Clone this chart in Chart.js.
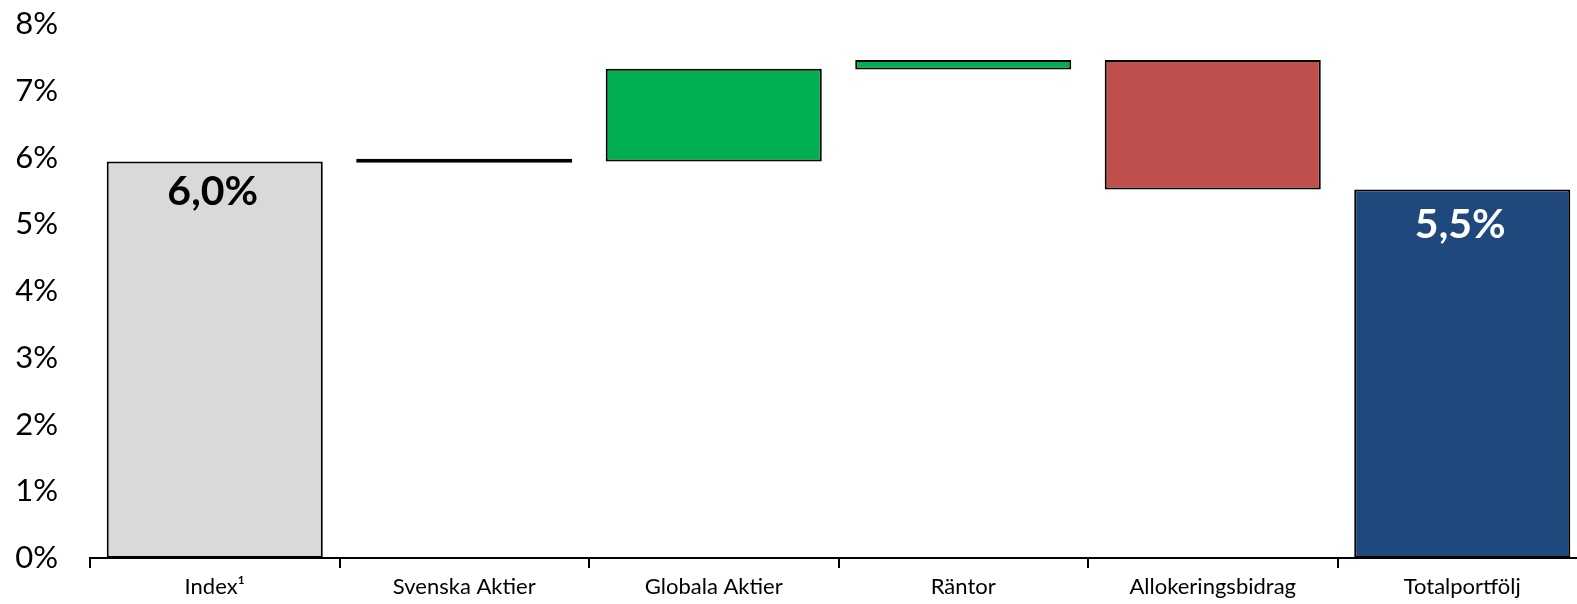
<!DOCTYPE html>
<html>
<head>
<meta charset="utf-8">
<script src="https://cdn.jsdelivr.net/npm/chart.js@4"></script>
<style>
html,body{margin:0;padding:0;background:#fff;overflow:hidden;}
#wrap{width:1577px;height:604px;overflow:hidden;}
</style>
</head>
<body>
<div id="wrap"><canvas id="c" width="1590" height="604"></canvas></div>
<script>
const categories = ["Index\u00B9", "Svenska Aktier", "Globala Aktier", "R\u00E4ntor", "Allokeringsbidrag", "Totalportf\u00F6lj"];
const barStart = [0, 5.92, 5.94, 7.32, 5.52, 0];
const barEnd   = [5.94, 5.98, 7.33, 7.46, 7.46, 5.52];
const valueLabels = ["6,0%", "", "", "", "", "5,5%"];
const yTicks = [0, 1, 2, 3, 4, 5, 6, 7, 8];

// styles (kept apart from data)
const barColors = ["#D9D9D9", "#000000", "#00B050", "#00B050", "#C0504D", "#1F497D"];
const valueLabelColors = ["#000000", "", "", "", "", "#FFFFFF"];
const valueLabelOffsets = [30, 0, 0, 0, 0, 35];
const FONT = 'Lato, "Open Sans", sans-serif';

const labelPlugin = {
  id: 'valueLabels',
  afterDatasetsDraw(chart) {
    const ctx = chart.ctx;
    const meta = chart.getDatasetMeta(0);
    ctx.save();
    ctx.font = 'bold 41px ' + FONT;
    ctx.textAlign = 'center';
    ctx.textBaseline = 'middle';
    meta.data.forEach((bar, i) => {
      if (!valueLabels[i]) return;
      ctx.fillStyle = valueLabelColors[i];
      const top = Math.min(bar.y, bar.base);
      ctx.fillText(valueLabels[i], bar.x - 2, top + valueLabelOffsets[i]);
    });
    ctx.restore();
  }
};

new Chart(document.getElementById('c'), {
  type: 'bar',
  data: {
    labels: categories,
    datasets: [{
      data: barStart.map((s, i) => [s, barEnd[i]]),
      backgroundColor: barColors,
      borderColor: '#000000',
      borderWidth: 2,
      borderSkipped: false,
      barPercentage: 0.866,
      categoryPercentage: 1.0
    }]
  },
  options: {
    responsive: false,
    animation: false,
    layout: { padding: { top: 0, right: 3, left: 0, bottom: 0 } },
    plugins: { legend: { display: false }, tooltip: { enabled: false } },
    scales: {
      y: {
        min: 0, max: 8,
        afterFit(axis) { axis.width = 90; axis.paddingTop = 24; axis.paddingBottom = 0; },
        afterBuildTicks(axis) { axis.ticks = yTicks.map(v => ({ value: v })); },
        grid: { display: false, drawTicks: false },
        border: { display: false },
        ticks: {
          padding: 32,
          color: '#000',
          font: { size: 31, family: FONT },
          callback: v => v + '%'
        }
      },
      x: {
        afterFit(axis) { axis.height = 46; },
        grid: { display: true, offset: true, drawOnChartArea: false, drawTicks: true, tickLength: 10, color: '#000', lineWidth: 2 },
        border: { display: true, color: '#000', width: 2 },
        ticks: {
          padding: 6,
          color: '#000',
          font: { size: 22, family: FONT }
        }
      }
    }
  },
  plugins: [labelPlugin]
});
</script>
</body>
</html>
